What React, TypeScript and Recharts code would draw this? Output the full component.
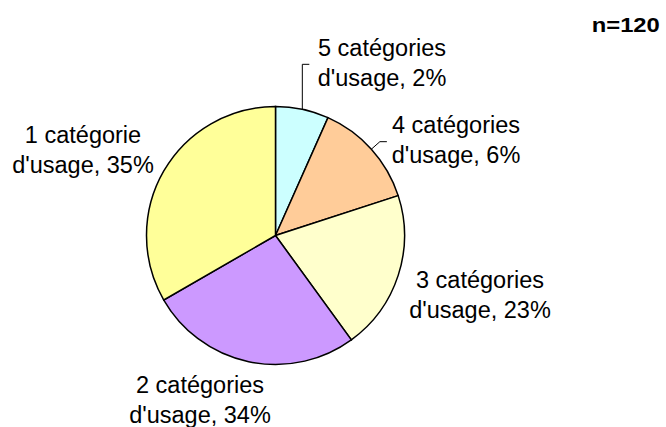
import { PieChart, Pie, Cell } from 'recharts';

if (typeof document !== 'undefined') document.body.style.margin = '0';

// respondents by number of usage categories (n=120), clockwise from 12 o'clock
const CATEGORIES = ['5 catégories', '4 catégories', '3 catégories', '2 catégories', '1 catégorie'];
const COUNTS = [8, 16, 24, 32, 40];
// percentages as printed on the original labels
const LABEL_PCT = [2, 6, 23, 34, 35];

const COLORS = ['#CCFFFF', '#FFCC99', '#FFFFCC', '#CC99FF', '#FFFF99'];

// label placement, relative to pie centre: [dx, dy of first baseline]
const LABEL_POS = [
  [106.5, -179.5],
  [180.5, -102.5],
  [204.5, 52.5],
  [-75.5, 157.5],
  [-192.5, -92.5],
];
// leader lines, relative to the slice edge point: elbow then end
const LEADERS: Record<number, number[][]> = {
  0: [[0, -45], [7, -45]],
  1: [[8.5, -7.5], [15.5, -7.5]],
};

const FONT = '"Liberation Sans", Arial, sans-serif';
const RAD = Math.PI / 180;

const data = CATEGORIES.map((name, i) => ({ name, value: COUNTS[i] }));

function renderLabel(props: any) {
  const { cx, cy, midAngle, outerRadius, name } = props;
  const i = CATEGORIES.indexOf(name);
  const [dx, dy] = LABEL_POS[i];
  const x = cx + dx;
  const y = cy + dy;
  const sx = cx + outerRadius * Math.cos(-midAngle * RAD);
  const sy = cy + outerRadius * Math.sin(-midAngle * RAD);
  const leader = LEADERS[i];
  return (
    <g key={`label-${i}`}>
      {leader && (
        <polyline
          points={[[0, 0], ...leader].map(([a, b]) => `${sx + a},${sy + b}`).join(' ')}
          fill="none"
          stroke="#000"
          strokeWidth={1}
        />
      )}
      <text x={x} y={y} textAnchor="middle" fontFamily={FONT} fontSize={23.5} fill="#000">
        {name}
      </text>
      <text x={x} y={y + 29.5} textAnchor="middle" fontFamily={FONT} fontSize={23.5} fill="#000">
        {`d'usage, ${LABEL_PCT[i]}%`}
      </text>
    </g>
  );
}

export default function App() {
  return (
    <div style={{ position: 'relative', width: 666, height: 427, background: '#fff' }}>
      <PieChart width={666} height={427} margin={{ top: 0, right: 0, bottom: 0, left: 0 }}>
        <Pie
          data={data}
          dataKey="value"
          nameKey="name"
          cx={275.5}
          cy={235.5}
          outerRadius={129}
          startAngle={90}
          endAngle={-270}
          stroke="#000"
          strokeWidth={1.5}
          labelLine={false}
          label={renderLabel}
          isAnimationActive={false}
        >
          {data.map((entry, i) => (
            <Cell key={`cell-${entry.name}`} fill={COLORS[i]} />
          ))}
        </Pie>
      </PieChart>
      <div
        style={{
          position: 'absolute',
          right: 6,
          top: 15,
          fontFamily: FONT,
          fontWeight: 'bold',
          fontSize: 19.5,
          lineHeight: '20px',
          color: '#000',
          transform: 'scaleX(1.22)',
          transformOrigin: 'right center',
        }}
      >
        n=120
      </div>
    </div>
  );
}
